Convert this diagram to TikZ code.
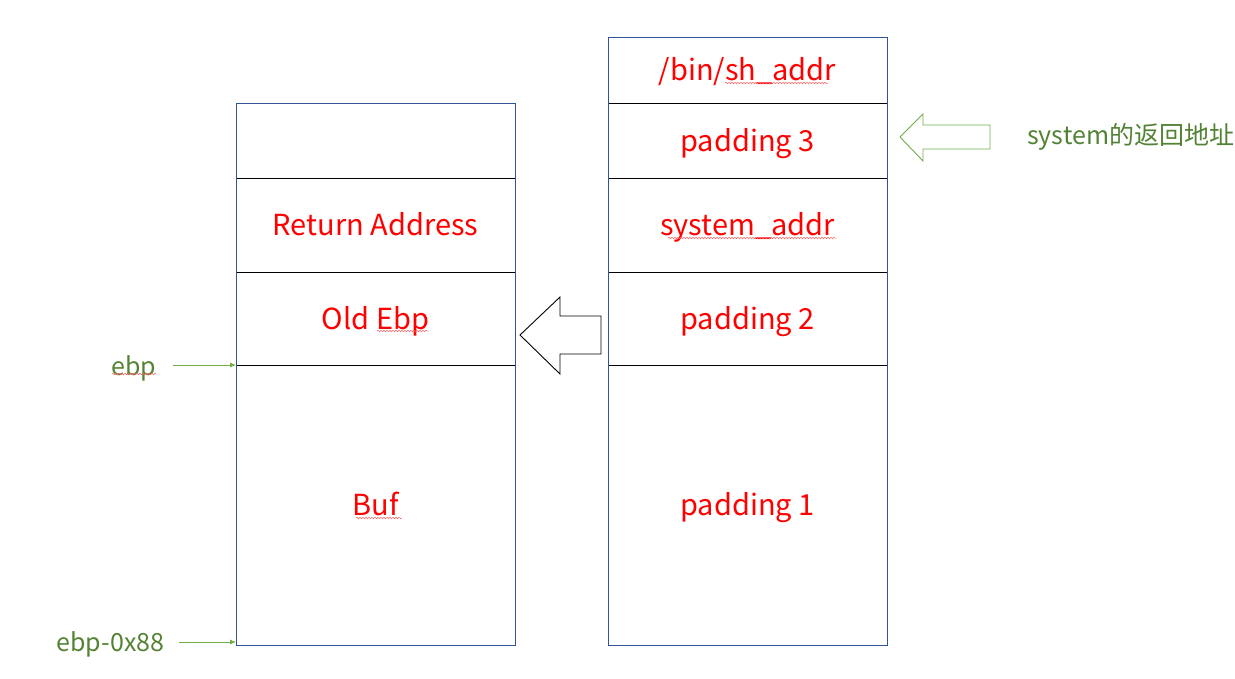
\documentclass[tikz,border=0pt]{standalone}
\usepackage{fontspec}
\setmainfont{Noto Sans CJK SC}
\usetikzlibrary{positioning,arrows.meta,decorations.pathmorphing}
\definecolor{frameblue}{HTML}{2F5597}
\definecolor{labgreen}{HTML}{548235}
\definecolor{arrgreen}{HTML}{70AD47}
\definecolor{txtred}{HTML}{FF0000}

\begin{document}
\begin{tikzpicture}[x=1pt,y=-1pt]
\tikzset{cell/.style={draw=black, line width=0.8pt, minimum width=279pt, inner sep=0pt, outer sep=0pt, anchor=north, text=txtred, text height=21pt, text depth=0pt, font=\fontsize{29}{33}\selectfont}}
\tikzset{lab/.style={text=labgreen, text height=17pt, text depth=0pt, inner sep=0pt, font=\fontsize{25}{29}\selectfont}}
\tikzset{ptr/.style={draw=arrgreen, line width=0.8pt, -{Latex[length=6pt,width=5pt]}}}
\tikzset{squig/.style={draw=txtred!60, line width=0.5pt, decorate, decoration={snake, amplitude=0.8pt, segment length=3pt}}}
\useasboundingbox (0,0) rectangle (1235,678);
% stack frame
\node[cell, minimum height=75pt] (lempty) at (375.5,103) {};
\node[cell, minimum height=94pt, below=0pt of lempty] (lret) {Return Address};
\node[cell, minimum height=93pt, below=0pt of lret] (lebp) {Old Ebp};
\node[cell, minimum height=280pt, below=0pt of lebp] (lbuf) {Buf};
\draw[frameblue, line width=0.8pt] (lempty.north west) rectangle (lbuf.south east);
% payload
\node[cell, minimum height=66pt] (rsh) at (747.5,37) {/bin/sh\_addr};
\node[cell, minimum height=75pt, below=0pt of rsh] (rpad3) {padding 3};
\node[cell, minimum height=94pt, below=0pt of rpad3] (rsys) {system\_addr};
\node[cell, minimum height=93pt, below=0pt of rsys] (rpad2) {padding 2};
\node[cell, minimum height=280pt, below=0pt of rpad2] (rpad1) {padding 1};
\draw[frameblue, line width=0.8pt] (rsh.north west) rectangle (rpad1.south east);
% block arrows
\draw[black, line width=0.9pt] (520,335) -- (560,297) -- (560,316) -- (601,316) -- (601,354) -- (560,354) -- (560,374) -- cycle;
\draw[arrgreen, line width=0.9pt] (900,137) -- (923,114) -- (923,125) -- (990,125) -- (990,149) -- (923,149) -- (923,161) -- cycle;
\node[lab, anchor=west] (retlab) at (1027,136) {system的返回地址};
% pointers
\node[lab] (ebp) at (134,367) {ebp};
\node[lab] (ebplow) at (110.5,643) {ebp-0x88};
\draw[ptr] ([xshift=16pt]ebp.east |- lbuf.north west) -- (lbuf.north west);
\draw[ptr] ([xshift=14pt]ebplow.east |- lbuf.south west) ++(0,-3) coordinate (p0) -- ([yshift=3pt]lbuf.south west);
% spell marks
\draw[squig] (725,83) -- (828,83);
\draw[squig] (668,238) -- (836,238);
\draw[squig] (377,331) -- (428,331);
\draw[squig] (356,518) -- (402,518);
\draw[squig] (112,374) -- (156,374);
\end{tikzpicture}
\end{document}
